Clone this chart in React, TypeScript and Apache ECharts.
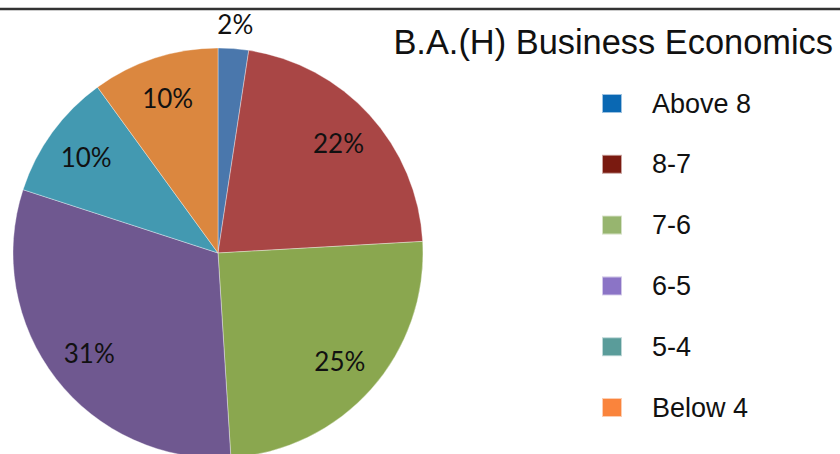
import React, { useEffect, useRef } from "react";
import * as echarts from "echarts";

const categories = ["Above 8", "8-7", "7-6", "6-5", "5-4", "Below 4"];
const shares = [2.4, 21.7, 24.9, 31.0, 10.0, 10.0];
const sliceColors = ["#4A77AC", "#A94645", "#8AA74F", "#6F5890", "#4399B1", "#DB873F"];
const legendColors = ["#0A68B3", "#7A1A10", "#97B56F", "#8B74C6", "#5A9C9A", "#FA843C"];
const titleText = "B.A.(H) Business Economics";

export default function App() {
  const ref = useRef<HTMLDivElement>(null);
  useEffect(() => {
    if (!ref.current) return;
    const chart = echarts.init(ref.current, null, { renderer: "svg" });
    const center = [218, 253];
    const R = 205;
    const labelFont = { fontFamily: "Lato", fontSize: 26, color: "#111" };
    const fmt = (p: any) => Math.round(p.value) + "%";
    chart.setOption({
      animation: false,
      backgroundColor: "#ffffff",
      title: {
        text: titleText,
        right: 2,
        top: 20,
        textStyle: { fontFamily: "Liberation Sans, Arial", fontSize: 34.4, fontWeight: "normal", color: "#111" },
      },
      legend: {
        orient: "vertical",
        left: 596,
        top: 85,
        icon: "rect",
        itemWidth: 20,
        itemHeight: 19,
        itemGap: 33.8,
        selectedMode: false,
        textStyle: {
          fontFamily: "Liberation Sans, Arial",
          fontSize: 27,
          lineHeight: 27,
          color: "#111",
          padding: [0, 0, 0, 25],
        },
        data: categories.map((c, i) => ({ name: c, itemStyle: { color: legendColors[i] } })),
      },
      graphic: [
        {
          type: "line",
          shape: { x1: 0, y1: 9, x2: 840, y2: 9 },
          style: { stroke: "#333", lineWidth: 2.5 },
        },
      ],
      series: [
        {
          type: "pie",
          center,
          radius: [0, R],
          startAngle: 90,
          clockwise: true,
          label: { show: false },
          labelLine: { show: false },
          itemStyle: { borderColor: "rgba(255,255,255,0.6)", borderWidth: 0.6 },
          emphasis: { disabled: true },
          data: categories.map((c, i) => ({ name: c, value: shares[i], itemStyle: { color: sliceColors[i] } })),
        },
        {
          type: "pie",
          center,
          radius: [0.56 * R, R],
          startAngle: 90,
          clockwise: true,
          silent: true,
          legendHoverLink: false,
          label: { show: true, position: "inside", formatter: fmt, ...labelFont },
          labelLine: { show: false },
          itemStyle: { color: "transparent" },
          emphasis: { disabled: true },
          data: categories.map((c, i) => ({
            name: c + " ",
            value: shares[i],
            label: { show: i !== 0 },
          })),
        },
        {
          type: "pie",
          center,
          radius: [R + 5, R + 39],
          startAngle: 90,
          clockwise: true,
          silent: true,
          legendHoverLink: false,
          label: { show: true, position: "inside", formatter: fmt, ...labelFont },
          labelLine: { show: false },
          itemStyle: { color: "transparent" },
          emphasis: { disabled: true },
          data: categories.map((c, i) => ({
            name: c + "  ",
            value: shares[i],
            label: { show: i === 0 },
          })),
        },
      ],
    });
    return () => chart.dispose();
  }, []);
  return <div ref={ref} style={{ position: "fixed", left: 0, top: 0, width: 840, height: 454 }} />;
}
